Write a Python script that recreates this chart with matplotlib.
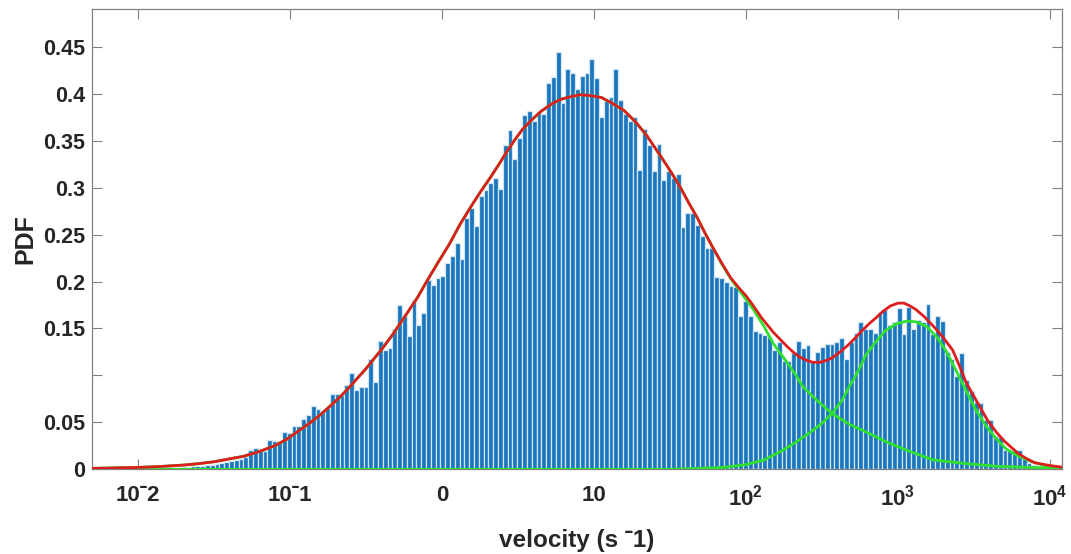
import matplotlib
matplotlib.use('Agg')
import matplotlib.pyplot as plt
from matplotlib.ticker import NullLocator
import numpy as np

plt.rcParams['font.family'] = ['Liberation Sans', 'DejaVu Sans']
plt.rcParams['font.weight'] = 'bold'
plt.rcParams['mathtext.fontset'] = 'custom'
plt.rcParams['mathtext.rm'] = 'Liberation Sans:bold'
plt.rcParams['mathtext.bf'] = 'Liberation Sans:bold'
plt.rcParams['mathtext.default'] = 'rm'

# histogram: log10 bins of equal width, heights
bin_lo = -1.842
bin_w = 0.0316
pdf_vals = [
    0.0005, 0.0008, 0.001, 0.0015, 0.002, 0.0025, 0.003, 0.003, 0.004, 0.0045,
    0.005, 0.006, 0.0065, 0.008, 0.009, 0.010, 0.0115, 0.013, 0.0206, 0.023,
    0.0206, 0.019, 0.031, 0.030, 0.029, 0.040, 0.039, 0.046, 0.046, 0.054,
    0.058, 0.0675, 0.064, 0.062, 0.065, 0.080, 0.080, 0.079, 0.090, 0.103,
    0.085, 0.088, 0.088, 0.117, 0.093, 0.137, 0.127, 0.129, 0.149, 0.175,
    0.163, 0.142, 0.180, 0.154, 0.166, 0.202, 0.196, 0.204, 0.206, 0.220,
    0.227, 0.241, 0.224, 0.268, 0.278, 0.259, 0.291, 0.297, 0.305, 0.310,
    0.299, 0.345, 0.361, 0.331, 0.353, 0.377, 0.382, 0.371, 0.381, 0.379,
    0.412, 0.418, 0.445, 0.390, 0.426, 0.422, 0.405, 0.419, 0.422, 0.437,
    0.417, 0.375, 0.392, 0.397, 0.426, 0.393, 0.378, 0.371, 0.375, 0.319,
    0.363, 0.345, 0.318, 0.347, 0.308, 0.318, 0.310, 0.315, 0.258, 0.273,
    0.273, 0.260, 0.248, 0.236, 0.236, 0.205, 0.204, 0.200, 0.195, 0.194,
    0.163, 0.179, 0.163, 0.147, 0.145, 0.143, 0.141, 0.127, 0.136, 0.115,
    0.115, 0.124, 0.137, 0.129, 0.1325, 0.115, 0.125, 0.130, 0.134, 0.134,
    0.136, 0.140, 0.118, 0.136, 0.145, 0.157, 0.149, 0.149, 0.145, 0.168,
    0.170, 0.154, 0.157, 0.1715, 0.144, 0.173, 0.149, 0.159, 0.157, 0.176,
    0.144, 0.163, 0.1585, 0.125, 0.118, 0.099, 0.124, 0.095, 0.083, 0.072,
    0.071, 0.053, 0.052, 0.035, 0.034, 0.0206, 0.020, 0.020, 0.0206, 0.0107,
    0.007, 0.005, 0.003, 0.002,
]

# fitted mixture (red) and its two components (green)
fit_logv = [-2.30, -2.15, -2.00, -1.85, -1.70, -1.60, -1.50, -1.40, -1.30, -1.20,
            -1.10, -1.02, -0.95, -0.87, -0.80, -0.73, -0.67, -0.61, -0.55, -0.50,
            -0.45, -0.39, -0.33, -0.28, -0.23, -0.16, -0.10, -0.03, 0.05, 0.12,
            0.20, 0.26, 0.32, 0.38, 0.43, 0.48, 0.53, 0.59, 0.65, 0.72,
            0.78, 0.85, 0.91, 0.98, 1.05, 1.12, 1.20, 1.28, 1.35, 1.40,
            1.45, 1.51, 1.57, 1.62, 1.68, 1.73, 1.78, 1.84, 1.90, 1.95,
            2.00, 2.05, 2.10, 2.18, 2.27, 2.31, 2.35, 2.40, 2.44, 2.49,
            2.53, 2.57, 2.62, 2.67, 2.72, 2.76, 2.81, 2.86, 2.90, 2.95,
            3.00, 3.04, 3.08, 3.12, 3.17, 3.23, 3.29, 3.36, 3.40, 3.45,
            3.52, 3.59, 3.65, 3.70, 3.79, 3.85, 3.90, 4.00, 4.09]
fit_total = [0.001, 0.0015, 0.002, 0.003, 0.0045, 0.006, 0.008, 0.011, 0.014, 0.019,
             0.025, 0.032, 0.040, 0.049, 0.058, 0.068, 0.077, 0.087, 0.098, 0.107,
             0.117, 0.129, 0.142, 0.154, 0.166, 0.183, 0.200, 0.219, 0.240, 0.261,
             0.282, 0.297, 0.311, 0.326, 0.339, 0.351, 0.362, 0.372, 0.381, 0.389,
             0.394, 0.397, 0.399, 0.398, 0.396, 0.390, 0.382, 0.369, 0.355, 0.343,
             0.331, 0.316, 0.300, 0.285, 0.268, 0.252, 0.237, 0.220, 0.204, 0.194,
             0.185, 0.174, 0.162, 0.146, 0.131, 0.125, 0.120, 0.116, 0.114, 0.114,
             0.116, 0.119, 0.125, 0.132, 0.140, 0.147, 0.155, 0.162, 0.168, 0.174,
             0.177, 0.177, 0.174, 0.170, 0.163, 0.153, 0.142, 0.127, 0.112, 0.092,
             0.072, 0.052, 0.039, 0.030, 0.017, 0.011, 0.007, 0.004, 0.002]

comp1_logv = [-2.30, -2.15, -2.00, -1.85, -1.70, -1.60, -1.50, -1.40, -1.30, -1.20,
              -1.10, -1.02, -0.95, -0.87, -0.80, -0.73, -0.67, -0.61, -0.55, -0.50,
              -0.45, -0.39, -0.33, -0.28, -0.23, -0.16, -0.10, -0.03, 0.05, 0.12,
              0.20, 0.26, 0.32, 0.38, 0.43, 0.48, 0.53, 0.59, 0.65, 0.72,
              0.78, 0.85, 0.91, 0.98, 1.05, 1.12, 1.20, 1.28, 1.35, 1.40,
              1.45, 1.51, 1.57, 1.62, 1.68, 1.73, 1.78, 1.84, 1.90, 1.96,
              2.05, 2.12, 2.18, 2.27, 2.33, 2.375, 2.47, 2.57, 2.68, 2.80,
              2.94, 3.08, 3.23, 3.45, 3.67, 4.09]
comp1_vals = [0.001, 0.0015, 0.002, 0.003, 0.0045, 0.006, 0.008, 0.011, 0.014, 0.019,
              0.025, 0.032, 0.040, 0.049, 0.058, 0.068, 0.077, 0.087, 0.098, 0.107,
              0.117, 0.129, 0.142, 0.154, 0.166, 0.183, 0.200, 0.219, 0.240, 0.261,
              0.282, 0.297, 0.311, 0.326, 0.339, 0.351, 0.362, 0.372, 0.381, 0.389,
              0.394, 0.397, 0.399, 0.398, 0.396, 0.390, 0.382, 0.369, 0.355, 0.343,
              0.331, 0.316, 0.300, 0.285, 0.268, 0.252, 0.237, 0.219, 0.203, 0.190,
              0.170, 0.152, 0.134, 0.114, 0.100, 0.088, 0.073, 0.059, 0.048, 0.039,
              0.028, 0.019, 0.010, 0.006, 0.003, 0.001]

comp2_logv = [-2.30, 1.50, 1.70, 1.85, 2.00, 2.12, 2.24, 2.33, 2.42, 2.50,
              2.57, 2.63, 2.68, 2.74, 2.79, 2.86, 2.92, 2.99, 3.06, 3.12,
              3.19, 3.26, 3.32, 3.38, 3.45, 3.51, 3.58, 3.65, 3.71, 3.78,
              3.85, 3.92, 3.98, 4.09]
comp2_vals = [0.0, 0.0, 0.001, 0.002, 0.005, 0.010, 0.020, 0.029, 0.039, 0.049,
              0.060, 0.073, 0.088, 0.105, 0.122, 0.137, 0.148, 0.155, 0.158, 0.157,
              0.152, 0.140, 0.125, 0.106, 0.083, 0.064, 0.046, 0.032, 0.022, 0.015,
              0.010, 0.006, 0.0035, 0.001]

xtick_vals = [1e-2, 1e-1, 1e0, 1e1, 1e2, 1e3, 1e4]
xtick_labels = ['10\u02c92', '10\u02c91', '0', '10', '$10^{2}$', '$10^{3}$', '$10^{4}$']
ytick_vals = [0, 0.05, 0.1, 0.15, 0.2, 0.25, 0.3, 0.35, 0.4, 0.45]
ytick_labels = ['0', '0.05', '', '0.15', '0.2', '0.25', '0.3', '0.35', '0.4', '0.45']

fig = plt.figure(figsize=(10.71, 5.54), dpi=100)
ax = fig.add_axes([92 / 1071, 1 - 469.3 / 554, 970 / 1071, 460 / 554])

edges = 10 ** (bin_lo + bin_w * np.arange(len(pdf_vals) + 1))
ax.bar(edges[:-1], pdf_vals, width=np.diff(edges), align='edge',
       color='#1a76be', edgecolor='#d4e6f4', linewidth=0.9, zorder=2)

ax.plot(10 ** np.array(comp1_logv), comp1_vals, color='#2fe02f', lw=2.0, zorder=3)
ax.plot(10 ** np.array(comp2_logv), comp2_vals, color='#2fe02f', lw=2.0, zorder=3)
ax.plot(10 ** np.array(fit_logv), fit_total, color='#dc1e1e', lw=2.0, zorder=4)

ax.set_xscale('log')
ax.set_xlim(0.005, 12000)
ax.set_ylim(0, 0.49)
ax.set_xticks(xtick_vals)
ax.set_xticklabels(xtick_labels)
ax.xaxis.set_minor_locator(NullLocator())
ax.set_yticks(ytick_vals)
ax.set_yticklabels(ytick_labels)

ax.tick_params(direction='in', length=7, width=0.8, color='#808080',
               top=True, right=True, labelcolor='#262626')
ax.tick_params(axis='x', pad=11, labelsize=16)
ax.tick_params(axis='y', pad=5, labelsize=15.5)
for s in ax.spines.values():
    s.set_color('#808080')
    s.set_linewidth(0.9)

ax.set_xlabel('velocity (s \u02c91)', fontsize=17.5, fontweight='bold', color='#262626', labelpad=13)
ax.set_ylabel('PDF', fontsize=18, fontweight='bold', color='#262626', labelpad=4)

fig.savefig('out.png', dpi=100)
